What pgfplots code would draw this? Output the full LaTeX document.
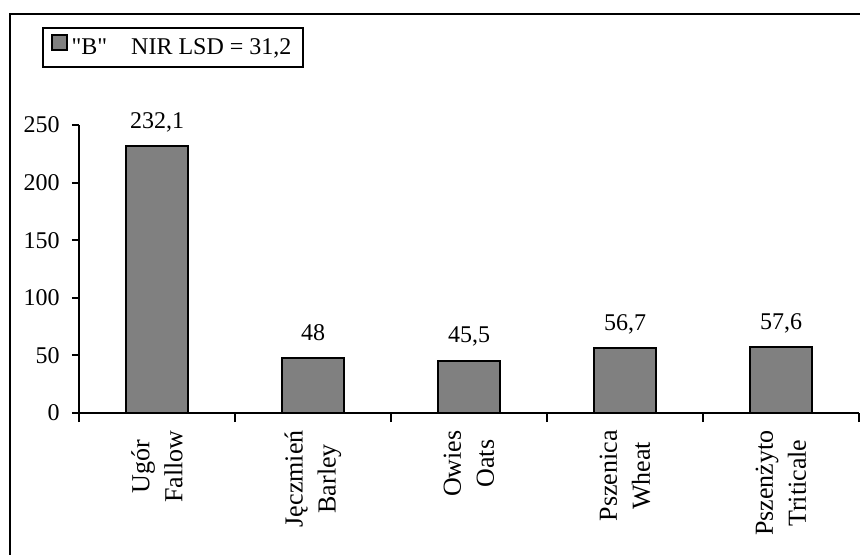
\documentclass[border=0pt]{standalone}
\usepackage{fontspec}
\setmainfont{Liberation Serif}[Ligatures=TeXOff]
\usepackage{pgfplots}
\pgfplotsset{compat=1.18}
\definecolor{bargray}{HTML}{808080}

\begin{document}
\begin{tikzpicture}[font=\fontsize{12}{14}\selectfont]
\useasboundingbox (-39.5pt,-71pt) rectangle (390.5pt,206.5pt);
\begin{axis}[
  scale only axis,
  width=390pt, height=144pt,
  at={(0,0)}, anchor=south west,
  xmin=-0.5, xmax=4.5,
  ymin=0, ymax=250,
  axis x line*=bottom, axis y line*=left,
  axis line style={-, line width=1pt},
  tick align=outside,
  ytick={0,50,...,250},
  major tick length=3.5pt,
  minor tick length=4.5pt,
  tick style={line width=1pt, black},
  xtick={0,...,4},
  major x tick style={draw=none},
  minor xtick={-0.5,0.5,1.5,2.5,3.5,4.5},
  xticklabels={{Ugór\\Fallow},{Jęczmień\\Barley},{Owies\\Oats},{Pszenica\\Wheat},{Pszenżyto\\Triticale}},
  % shifts act in the rotated frame: xshift moves the label down
  xticklabel style={rotate=90, anchor=east, align=center, inner sep=0pt,
    xshift=-5pt, font=\fontsize{13}{16.5}\selectfont},
  yticklabel style={inner sep=0pt, xshift=-6pt},
  /pgf/number format/assume math mode=true,
  /pgf/number format/use comma,
  ybar, bar width=31pt,
  nodes near coords,
  every node near coord/.append style={anchor=base, yshift=8.8pt},
  legend style={at={(axis description cs:-0.0474,1.34)}, anchor=north west,
    draw=black, line width=1pt, inner xsep=4pt, inner ysep=3pt},
  legend image code/.code={\draw[fill=bargray, draw=black, line width=0.8pt] (0pt,-1pt) rectangle (7.5pt,6.5pt);},
]
\addplot[fill=bargray, draw=black, line width=1pt] coordinates {
  (0,232.1) (1,48) (2,45.5) (3,56.7) (4,57.6)
};
\addlegendentry{"B"\hspace{12pt}NIR LSD = 31,2\hspace{6.5pt}}
\end{axis}
\draw[line width=1pt] (-34.5pt,-80pt) -- (-34.5pt,199.5pt) -- (400pt,199.5pt);
\end{tikzpicture}
\end{document}
